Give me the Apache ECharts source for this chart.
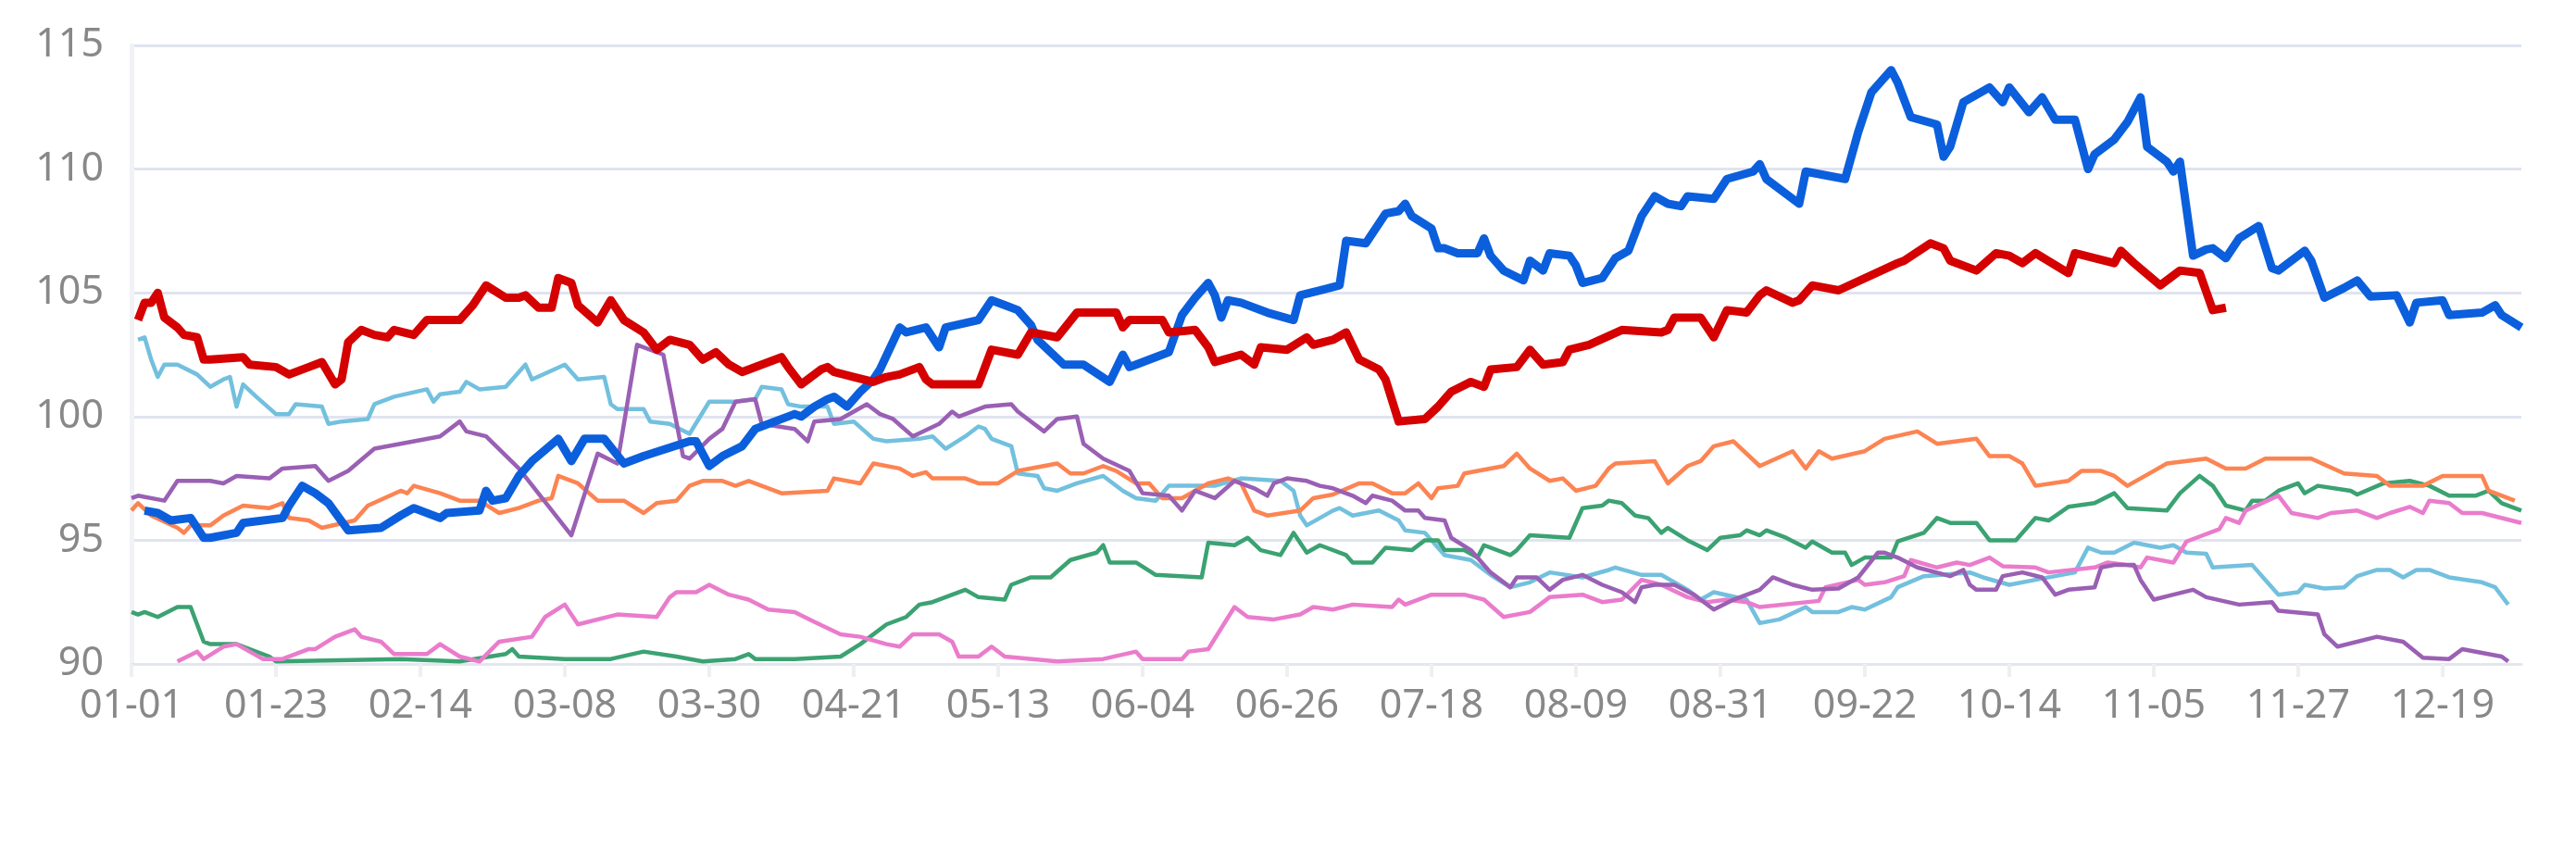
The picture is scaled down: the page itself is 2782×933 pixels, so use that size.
<!DOCTYPE html>
<html>
<head>
<meta charset="utf-8">
<script src="https://cdn.jsdelivr.net/npm/echarts@6/dist/echarts.min.js"></script>
<style>
  html, body { margin: 0; padding: 0; background: #fff; }
  #chart { width: 2782px; height: 933px; }
</style>
</head>
<body>
<div id="chart"></div>
<script>
// calendar days of a non-leap year, shown as MM-DD
const days = [];
for (let d = new Date(2023, 0, 1); d.getFullYear() === 2023; d.setDate(d.getDate() + 1)) {
  days.push(`0${d.getMonth() + 1}`.slice(-2) + "-" + `0${d.getDate()}`.slice(-2));
}

// [day index, value] points
const blueLine = [
  [2,96.2],[4,96.1],[6,95.8],[9,95.9],[11,95.1],[12,95.1],[16,95.3],[17,95.7],[23,95.9],[24,96.4],
  [26,97.2],[28,96.9],[30,96.5],[33,95.4],[38,95.5],[41,96.0],[43,96.3],[47,95.9],[48,96.1],[53,96.2],
  [54,97.0],[55,96.6],[57,96.7],[59,97.6],[61,98.2],[65,99.1],[67,98.2],[69,99.1],[72,99.1],[75,98.1],
  [78,98.4],[85,99.0],[86,99.0],[88,98.0],[90,98.4],[93,98.8],[95,99.5],[98,99.8],[101,100.1],[102,100.0],
  [104,100.4],[106,100.7],[107,100.8],[109,100.4],[111,101.0],[113,101.5],[114,101.9],[117,103.6],[118,103.4],[121,103.6],
  [123,102.8],[124,103.6],[129,103.9],[131,104.7],[133,104.5],[135,104.3],[137,103.7],[138,103.1],[142,102.1],[145,102.1],
  [149,101.4],[151,102.5],[152,102.0],[153,102.1],[158,102.6],[160,104.1],[162,104.8],[164,105.4],[165,104.9],[166,104.0],
  [167,104.7],[169,104.6],[173,104.2],[177,103.9],[178,104.9],[181,105.1],[184,105.3],[185,107.1],[188,107.0],[191,108.2],
  [193,108.3],[194,108.6],[195,108.1],[198,107.6],[199,106.8],[200,106.8],[202,106.6],[205,106.6],[206,107.2],[207,106.5],
  [209,105.9],[212,105.5],[213,106.3],[215,105.9],[216,106.6],[219,106.5],[220,106.1],[221,105.4],[224,105.6],[226,106.4],
  [228,106.7],[230,108.1],[232,108.9],[234,108.6],[236,108.5],[237,108.9],[241,108.8],[243,109.6],[247,109.9],[248,110.2],
  [249,109.6],[254,108.6],[255,109.9],[261,109.6],[263,111.5],[265,113.1],[268,114.0],[269,113.5],[271,112.1],[275,111.8],
  [276,110.5],[277,110.9],[279,112.7],[281,113.0],[283,113.3],[285,112.7],[286,113.3],[289,112.3],[291,112.9],[293,112.0],
  [296,112.0],[298,110.0],[299,110.6],[302,111.2],[304,111.9],[306,112.9],[307,110.9],[310,110.3],[311,109.9],[312,110.3],
  [314,106.5],[316,106.75],[317,106.8],[319,106.4],[321,107.2],[324,107.7],[326,106.0],[327,105.9],[331,106.7],[332,106.3],
  [334,104.8],[337,105.2],[339,105.5],[341,104.85],[345,104.9],[347,103.8],[348,104.6],[352,104.7],[353,104.1],[358,104.2],
  [360,104.5],[361,104.1],[364,103.6]
];

const redLine = [
  [1,103.9],[2,104.6],[3,104.6],[4,105.0],[5,104.0],[7,103.6],[8,103.3],[10,103.2],[11,102.3],[12,102.3],
  [17,102.4],[18,102.1],[22,102.0],[24,101.7],[27,102.0],[29,102.2],[31,101.3],[32,101.5],[33,103.0],[35,103.5],
  [37,103.3],[39,103.2],[40,103.5],[43,103.3],[45,103.9],[50,103.9],[52,104.5],[54,105.3],[57,104.8],[59,104.8],
  [60,104.9],[62,104.4],[64,104.4],[65,105.6],[67,105.4],[68,104.5],[71,103.8],[73,104.7],[75,103.9],[78,103.4],
  [80,102.7],[82,103.1],[85,102.9],[87,102.3],[89,102.6],[91,102.1],[93,101.8],[96,102.1],[99,102.4],[100,102.0],
  [102,101.3],[105,101.9],[106,102.0],[107,101.8],[110,101.6],[113,101.4],[115,101.6],[117,101.7],[120,102.0],[121,101.5],
  [122,101.3],[129,101.3],[131,102.7],[135,102.5],[137,103.4],[141,103.2],[144,104.2],[150,104.2],[151,103.6],[152,103.9],
  [157,103.9],[158,103.4],[162,103.5],[164,102.8],[165,102.2],[169,102.5],[171,102.1],[172,102.8],[176,102.7],[179,103.2],
  [180,102.9],[183,103.1],[185,103.4],[187,102.3],[190,101.9],[191,101.5],[193,99.8],[197,99.9],[199,100.4],[201,101.0],
  [204,101.4],[206,101.2],[207,101.9],[211,102.0],[213,102.7],[215,102.1],[218,102.2],[219,102.7],[222,102.9],[227,103.5],
  [233,103.4],[234,103.5],[235,104.0],[239,104.0],[241,103.2],[243,104.3],[246,104.2],[248,104.9],[249,105.1],[253,104.6],
  [254,104.7],[256,105.3],[260,105.1],[269,106.2],[270,106.3],[274,107.0],[276,106.8],[277,106.3],[281,105.9],[284,106.6],
  [286,106.5],[288,106.2],[290,106.6],[295,105.8],[296,106.6],[302,106.2],[303,106.7],[305,106.2],[309,105.3],[312,105.9],
  [315,105.8],[317,104.3],[319,104.4]
];

const skyLine = [
  [1,103.1],[2,103.2],[3,102.3],[4,101.6],[5,102.1],[7,102.1],[10,101.7],[12,101.2],[14,101.5],[15,101.6],
  [16,100.4],[17,101.3],[19,100.8],[22,100.1],[24,100.1],[25,100.5],[29,100.4],[30,99.7],[32,99.8],[36,99.9],
  [37,100.5],[40,100.8],[45,101.1],[46,100.6],[47,100.9],[50,101.0],[51,101.4],[53,101.1],[57,101.2],[59,101.8],
  [60,102.1],[61,101.5],[66,102.1],[68,101.5],[72,101.6],[73,100.5],[74,100.3],[78,100.3],[79,99.8],[82,99.7],
  [85,99.3],[88,100.6],[92,100.6],[95,100.7],[96,101.2],[99,101.1],[100,100.5],[102,100.4],[106,100.4],[107,99.7],
  [110,99.8],[113,99.1],[115,99.0],[120,99.1],[122,99.2],[124,98.7],[127,99.2],[129,99.6],[130,99.5],[131,99.1],
  [134,98.8],[135,97.7],[138,97.6],[139,97.1],[141,97.0],[144,97.3],[148,97.6],[151,97.0],[153,96.7],[156,96.6],
  [158,97.2],[162,97.2],[165,97.2],[169,97.5],[175,97.4],[177,97.0],[178,96.0],[179,95.6],[183,96.2],[184,96.3],
  [186,96.0],[190,96.2],[193,95.8],[194,95.4],[197,95.3],[200,94.4],[204,94.2],[207,93.6],[210,93.1],[213,93.3],
  [216,93.7],[221,93.5],[225,93.8],[226,93.9],[230,93.6],[233,93.6],[237,93.0],[239,92.6],[241,92.9],[246,92.6],
  [248,91.65],[251,91.8],[255,92.3],[256,92.1],[260,92.1],[262,92.3],[264,92.2],[268,92.7],[269,93.1],[273,93.55],
  [280,93.7],[282,93.5],[286,93.2],[290,93.4],[296,93.7],[298,94.7],[300,94.5],[302,94.5],[305,94.9],[309,94.7],
  [311,94.8],[313,94.5],[316,94.45],[317,93.9],[323,94.0],[325,93.4],[327,92.8],[330,92.9],[331,93.2],[334,93.05],
  [337,93.1],[339,93.55],[342,93.8],[344,93.8],[346,93.5],[348,93.8],[350,93.8],[353,93.5],[358,93.3],[360,93.1],
  [362,92.4]
];

const purpleLine = [
  [0,96.7],[1,96.8],[5,96.6],[7,97.4],[12,97.4],[14,97.3],[16,97.6],[21,97.5],[23,97.9],[28,98.0],
  [30,97.4],[33,97.8],[37,98.7],[47,99.2],[50,99.8],[51,99.4],[54,99.2],[59,97.9],[67,95.2],[71,98.5],
  [74,98.1],[77,102.9],[81,102.5],[84,98.4],[85,98.3],[88,99.1],[90,99.5],[92,100.6],[95,100.7],[96,99.7],
  [101,99.5],[103,99.0],[104,99.8],[108,99.9],[112,100.5],[114,100.1],[116,99.9],[119,99.2],[123,99.7],[125,100.2],
  [126,100.0],[130,100.4],[134,100.5],[135,100.2],[139,99.4],[141,99.9],[144,100.0],[145,98.9],[148,98.3],[152,97.8],
  [154,96.9],[158,96.8],[160,96.2],[162,97.0],[165,96.7],[168,97.4],[171,97.1],[173,96.8],[174,97.3],[176,97.5],
  [179,97.4],[181,97.2],[183,97.1],[186,96.8],[188,96.5],[189,96.8],[192,96.6],[194,96.2],[196,96.2],[197,95.9],
  [200,95.8],[201,95.1],[204,94.6],[207,93.7],[210,93.1],[211,93.5],[214,93.5],[216,93.0],[218,93.4],[221,93.6],
  [224,93.2],[227,92.9],[229,92.5],[230,93.1],[232,93.2],[235,93.2],[238,92.8],[241,92.2],[244,92.6],[248,93.0],
  [250,93.5],[253,93.2],[256,93.0],[260,93.05],[263,93.5],[266,94.5],[267,94.5],[269,94.3],[272,93.9],[277,93.55],
  [279,93.8],[280,93.2],[281,93.0],[284,93.0],[285,93.55],[288,93.7],[291,93.5],[293,92.8],[295,93.0],[299,93.1],
  [300,93.9],[302,94.0],[305,94.0],[306,93.4],[308,92.6],[311,92.8],[314,93.0],[316,92.7],[321,92.4],[326,92.5],
  [327,92.15],[333,92.0],[334,91.2],[336,90.7],[342,91.1],[346,90.9],[349,90.25],[353,90.2],[355,90.6],[361,90.3],
  [362,90.1]
];

const orangeLine = [
  [0,96.2],[1,96.5],[3,96.0],[7,95.5],[8,95.3],[9,95.6],[12,95.6],[14,96.0],[17,96.4],[21,96.3],
  [23,96.5],[24,95.9],[27,95.8],[29,95.5],[34,95.8],[36,96.4],[41,97.0],[42,96.9],[43,97.2],[47,96.9],
  [50,96.6],[53,96.6],[56,96.1],[59,96.3],[62,96.6],[64,96.7],[65,97.6],[68,97.3],[71,96.6],[75,96.6],
  [78,96.1],[80,96.5],[83,96.6],[85,97.2],[87,97.4],[90,97.4],[92,97.2],[94,97.4],[99,96.9],[106,97.0],
  [107,97.5],[111,97.3],[113,98.1],[117,97.9],[119,97.6],[121,97.75],[122,97.5],[127,97.5],[129,97.3],[132,97.3],
  [135,97.8],[141,98.1],[143,97.7],[145,97.7],[148,98.0],[150,97.8],[153,97.3],[155,97.3],[157,96.7],[160,96.7],
  [164,97.3],[167,97.5],[169,97.3],[171,96.2],[173,96.0],[178,96.2],[180,96.7],[183,96.85],[187,97.3],[189,97.3],
  [192,96.9],[194,96.9],[196,97.3],[198,96.7],[199,97.1],[202,97.2],[203,97.7],[209,98.0],[211,98.5],[213,97.9],
  [216,97.4],[218,97.5],[220,97.0],[223,97.2],[225,97.9],[226,98.1],[232,98.2],[234,97.3],[237,98.0],[239,98.2],
  [241,98.8],[244,99.0],[248,98.0],[253,98.6],[255,97.9],[257,98.6],[259,98.3],[264,98.6],[267,99.1],[272,99.4],
  [275,98.9],[281,99.1],[283,98.4],[286,98.4],[288,98.1],[290,97.2],[295,97.4],[297,97.8],[300,97.8],[302,97.6],
  [304,97.2],[308,97.8],[310,98.1],[316,98.3],[319,97.9],[322,97.9],[325,98.3],[332,98.3],[337,97.7],[342,97.6],
  [344,97.2],[349,97.2],[352,97.6],[358,97.6],[359,97.0],[363,96.6]
];

const greenLine = [
  [0,92.1],[1,92.0],[2,92.1],[4,91.9],[7,92.3],[9,92.3],[11,90.9],[12,90.8],[16,90.8],[21,90.3],
  [22,90.1],[41,90.2],[50,90.1],[57,90.4],[58,90.6],[59,90.3],[66,90.2],[73,90.2],[78,90.5],[83,90.3],
  [87,90.1],[92,90.2],[94,90.4],[95,90.2],[101,90.2],[108,90.3],[111,90.8],[115,91.6],[118,91.9],[120,92.4],
  [122,92.5],[127,93.0],[129,92.7],[133,92.6],[134,93.2],[137,93.5],[140,93.5],[143,94.2],[147,94.5],[148,94.8],
  [149,94.1],[153,94.1],[156,93.6],[163,93.5],[164,94.9],[168,94.8],[170,95.1],[172,94.6],[175,94.4],[177,95.3],
  [179,94.5],[181,94.8],[185,94.4],[186,94.1],[189,94.1],[191,94.7],[195,94.6],[197,95.0],[199,95.0],[200,94.6],
  [203,94.6],[205,94.3],[206,94.8],[210,94.4],[211,94.6],[213,95.2],[219,95.1],[221,96.3],[224,96.4],[225,96.6],
  [227,96.5],[229,96.0],[231,95.9],[233,95.3],[234,95.5],[237,95.0],[240,94.6],[242,95.1],[245,95.2],[246,95.4],
  [248,95.2],[249,95.4],[252,95.1],[255,94.7],[256,94.95],[259,94.5],[261,94.5],[262,94.0],[264,94.3],[268,94.3],
  [269,94.95],[273,95.3],[275,95.9],[277,95.7],[281,95.7],[283,95.0],[287,95.0],[290,95.9],[292,95.8],[295,96.35],
  [299,96.5],[302,96.9],[304,96.3],[310,96.2],[312,96.9],[315,97.6],[317,97.2],[319,96.4],[322,96.2],[323,96.6],
  [325,96.6],[327,97.0],[330,97.3],[331,96.9],[333,97.2],[338,97.0],[339,96.85],[343,97.3],[347,97.4],[350,97.2],
  [353,96.8],[357,96.8],[359,97.0],[361,96.5],[364,96.2]
];

const pinkLine = [
  [7,90.1],[10,90.5],[11,90.2],[14,90.7],[16,90.8],[20,90.2],[23,90.2],[27,90.6],[28,90.6],[31,91.1],
  [34,91.4],[35,91.1],[38,90.9],[40,90.4],[45,90.4],[47,90.8],[50,90.3],[53,90.1],[56,90.9],[61,91.1],
  [63,91.9],[66,92.4],[68,91.6],[74,92.0],[80,91.9],[82,92.7],[83,92.9],[86,92.9],[88,93.2],[91,92.8],
  [94,92.6],[97,92.2],[101,92.1],[104,91.7],[108,91.2],[111,91.1],[115,90.8],[117,90.7],[119,91.2],[123,91.2],
  [125,90.9],[126,90.3],[129,90.3],[131,90.7],[133,90.3],[141,90.1],[148,90.2],[153,90.5],[154,90.2],[160,90.2],
  [161,90.5],[164,90.6],[168,92.3],[170,91.9],[174,91.8],[178,92.0],[180,92.3],[183,92.2],[186,92.4],[192,92.3],
  [193,92.6],[194,92.4],[198,92.8],[203,92.8],[206,92.6],[209,91.9],[213,92.1],[216,92.7],[221,92.8],[224,92.5],
  [227,92.6],[230,93.4],[233,93.2],[237,92.7],[240,92.5],[243,92.6],[246,92.5],[248,92.3],[257,92.55],[258,93.1],
  [263,93.4],[264,93.2],[267,93.3],[270,93.55],[271,94.2],[275,93.9],[278,94.1],[280,94.0],[283,94.3],[285,93.95],
  [290,93.9],[292,93.7],[299,93.9],[301,94.1],[304,94.0],[306,93.9],[307,94.3],[311,94.1],[313,94.95],[318,95.45],
  [319,95.9],[321,95.7],[322,96.2],[327,96.8],[329,96.1],[333,95.9],[335,96.1],[339,96.2],[342,95.9],[344,96.1],
  [347,96.35],[349,96.1],[350,96.6],[353,96.5],[355,96.1],[358,96.1],[364,95.7]
];

const yTicks = { min: 90, max: 115, step: 5 };

const seriesDefs = [
  { name: "sky", data: skyLine, color: "#73c0de", width: 4.5 },
  { name: "green", data: greenLine, color: "#3ba272", width: 4.5 },
  { name: "orange", data: orangeLine, color: "#fc8452", width: 4.5 },
  { name: "pink", data: pinkLine, color: "#ea7ccc", width: 4.5 },
  { name: "purple", data: purpleLine, color: "#9a60b4", width: 4.5 },
  { name: "blue", data: blueLine, color: "#0b5fdc", width: 9 },
  { name: "red", data: redLine, color: "#d50000", width: 9 },
];

const chart = echarts.init(document.getElementById("chart"));

chart.setOption({
  animation: false,
  backgroundColor: "#fff",
  grid: { left: 142, right: 59, top: 49, bottom: 216 },
  xAxis: {
    type: "category",
    data: days,
    boundaryGap: false,
    axisLine: { show: true, lineStyle: { color: "#e3e6ee", width: 3 } },
    axisTick: { show: true, interval: 21, length: 14, lineStyle: { color: "#eeeff3", width: 4 } },
    axisLabel: {
      interval: 21,
      margin: 24,
      color: "#888",
      fontSize: 43,
      fontFamily: "Noto Sans",
    },
    splitLine: { show: false },
  },
  yAxis: {
    type: "value",
    min: yTicks.min,
    max: yTicks.max,
    interval: yTicks.step,
    axisLine: { show: true, lineStyle: { color: "#f1f2f5", width: 5 } },
    axisTick: { show: false },
    axisLabel: {
      margin: 30,
      color: "#888",
      fontSize: 43,
      fontFamily: "Noto Sans",
    },
    splitLine: { show: true, lineStyle: { color: "#e0e4f0", width: 3 } },
  },
  series: seriesDefs.map((s) => ({
    name: s.name,
    type: "line",
    data: s.data,
    symbol: "none",
    smooth: false,
    color: s.color,
    lineStyle: { color: s.color, width: s.width, join: "round" },
    emphasis: { disabled: true },
  })),
});
</script>
</body>
</html>
